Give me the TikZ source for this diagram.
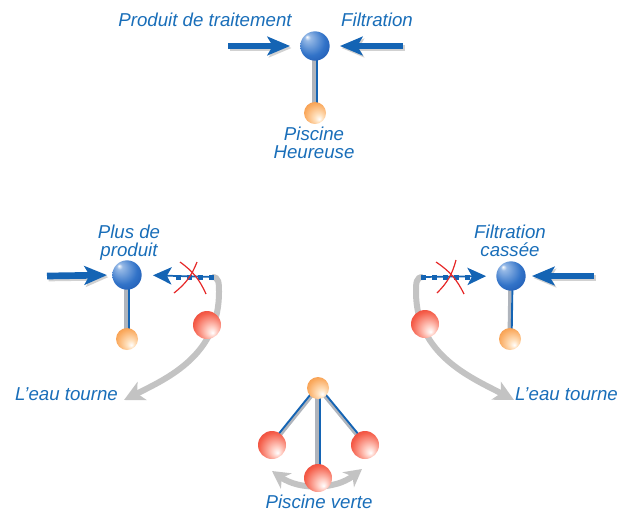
\documentclass[tikz,border=0pt]{standalone}
\usepackage{fontspec}
\setmainfont{Liberation Sans}
\usetikzlibrary{arrows.meta,calc}
\definecolor{txtblue}{RGB}{25,110,185}
\definecolor{arrblue}{RGB}{20,100,180}
\definecolor{stemgray}{RGB}{175,180,188}
\definecolor{curvegray}{RGB}{195,195,195}
\definecolor{xred}{RGB}{230,40,40}
\definecolor{blA}{RGB}{150,185,230}
\definecolor{blB}{RGB}{50,115,200}
\definecolor{blC}{RGB}{20,75,165}
\definecolor{orA}{RGB}{255,225,190}
\definecolor{orB}{RGB}{250,170,95}
\definecolor{orC}{RGB}{238,130,45}
\definecolor{rdA}{RGB}{255,205,195}
\definecolor{rdB}{RGB}{245,95,75}
\definecolor{rdC}{RGB}{220,30,25}
\pgfdeclareradialshading{blueballsh}{\pgfpoint{-14bp}{16bp}}{color(0bp)=(white); color(5bp)=(blA); color(24bp)=(blB); color(44bp)=(blC); color(50bp)=(blC)}
\pgfdeclareradialshading{orangeballsh}{\pgfpoint{10bp}{-14bp}}{color(0bp)=(white); color(9bp)=(orA); color(28bp)=(orB); color(46bp)=(orC); color(50bp)=(orC)}
\pgfdeclareradialshading{redballsh}{\pgfpoint{10bp}{-14bp}}{color(0bp)=(white); color(9bp)=(rdA); color(28bp)=(rdB); color(46bp)=(rdC); color(50bp)=(rdC)}
\begin{document}
\begin{tikzpicture}[x=0.75pt,y=-0.75pt,
  bball/.style={circle, inner sep=0pt, minimum size=22pt, shading=blueballsh},
  oball/.style={circle, inner sep=0pt, minimum size=16.5pt, shading=orangeballsh},
  rball/.style={circle, inner sep=0pt, minimum size=21pt, shading=redballsh},
  lbl/.style={text=txtblue, font=\fontsize{14}{13}\selectfont\itshape, align=center, inner sep=0pt},
  bigarrow/.style={draw=arrblue, line width=5pt, -{Stealth[length=17pt,width=14pt,inset=4pt]}},
  shadowarrow/.style={draw=black!18, line width=5pt, -{Stealth[length=17pt,width=14pt,inset=4pt]}, transform canvas={shift={(1.5,2)}}},
  grayarrow/.style={draw=curvegray, line width=4.5pt, -{Stealth[length=15pt,width=15pt,inset=4pt]}},
  grayboth/.style={draw=curvegray, line width=4.5pt, {Stealth[length=13pt,width=14pt,inset=4pt]}-{Stealth[length=13pt,width=14pt,inset=4pt]}},
  stemg/.style={draw=stemgray, line width=2.6pt},
  stemb/.style={draw=arrblue, line width=1.4pt},
  dotline/.style={draw=arrblue, line width=1.3pt, -{Stealth[length=14pt,width=13pt,inset=3.5pt]}},
  dotsq/.style={draw=arrblue, line width=3.75pt, dash pattern=on 3.75pt off 4.5pt},
  xstroke/.style={draw=xred, line width=0.9pt}
]
\useasboundingbox (0,0) rectangle (634,512);

% ---------- coordinates ----------
\coordinate (t1) at (228,46);
\coordinate (t2) at (403,46);
\coordinate (t3) at (47,276);
\coordinate (d2s) at (213.5,277);
\coordinate (d2e) at (174,277);
\coordinate (t4) at (594,276);
\coordinate (d3s) at (421,277);
\coordinate (d3e) at (470,277);
\coordinate (gl0) at (212,277);
\coordinate (gl1) at (124,400);
\coordinate (gr0) at (423,277);
\coordinate (gr1) at (514,400);
\coordinate (ba) at (272,471);
\coordinate (bb) at (362,469);

% ---------- ball positions ----------
\coordinate (b1p) at (315,46);
\coordinate (o1p) at (315,113);
\coordinate (b2p) at (127,275);
\coordinate (o2p) at (127,339);
\coordinate (b3p) at (511,276);
\coordinate (o3p) at (510,339);
\coordinate (o4p) at (318,388);
\coordinate (r4ap) at (272,445);
\coordinate (r4bp) at (318,478);
\coordinate (r4cp) at (365,445);

% ---------- stems ----------
\draw[stemg] ($(b1p)+(-0.8,0)$) -- ($(o1p)+(-0.8,0)$);
\draw[stemb] ($(b1p)+(1.6,0)$) -- ($(o1p)+(1.6,0)$);
\draw[stemg] ($(b2p)+(-0.8,0)$) -- ($(o2p)+(-0.8,0)$);
\draw[stemb] ($(b2p)+(1.6,0)$) -- ($(o2p)+(1.6,0)$);
\draw[stemg] ($(b3p)+(-0.8,0)$) -- ($(o3p)+(-0.8,0)$);
\draw[stemb] ($(b3p)+(1.6,0)$) -- ($(o3p)+(1.6,0)$);
\draw[stemg] (o4p) -- (r4ap);
\draw[stemb] ($(o4p)+(-1.4,-1.1)$) -- ($(r4ap)+(-1.4,-1.1)$);
\draw[stemg] (o4p) -- (r4cp);
\draw[stemb] ($(o4p)+(1.4,-1.1)$) -- ($(r4cp)+(1.4,-1.1)$);
\draw[stemg] ($(o4p)+(-0.8,0)$) -- ($(r4bp)+(-0.8,0)$);
\draw[stemb] ($(o4p)+(1.6,0)$) -- ($(r4bp)+(1.6,0)$);

% ---------- gray curved arrows ----------
\draw[grayarrow] (gl0) .. controls (219,277) and (219,283) .. (219,292)
   .. controls (219,355) and (168,378) .. (gl1);
\draw[grayarrow] (gr0) .. controls (416,277) and (416,283) .. (416,292)
   .. controls (416,355) and (472,378) .. (gr1);
\draw[grayboth] (ba) .. controls (299,490) and (335,490) .. (bb);

% ---------- balls ----------
\node[bball] (b1) at (b1p) {};
\node[oball] (o1) at (o1p) {};
\node[bball] (b2) at (b2p) {};
\node[oball] (o2) at (o2p) {};
\node[rball] (r2) at (207,325) {};
\node[bball] (b3) at (b3p) {};
\node[oball] (o3) at (o3p) {};
\node[rball] (r3) at (425,324) {};
\node[oball] (o4) at (o4p) {};
\node[rball] (r4a) at (r4ap) {};
\node[rball] (r4b) at (r4bp) {};
\node[rball] (r4c) at (r4cp) {};

% ---------- blue arrows ----------
\draw[shadowarrow, shorten >=7.5pt] (t1) -- (b1.west);
\draw[bigarrow, shorten >=7.5pt] (t1) -- (b1.west);
\draw[shadowarrow, shorten >=7.5pt] (t2) -- (b1.east);
\draw[bigarrow, shorten >=7.5pt] (t2) -- (b1.east);
\draw[shadowarrow, shorten >=3.75pt] (t3) -- (b2.west);
\draw[bigarrow, shorten >=3.75pt] (t3) -- (b2.west);
\draw[shadowarrow, shorten >=4.5pt] (t4) -- (b3.east);
\draw[bigarrow, shorten >=4.5pt] (t4) -- (b3.east);

% ---------- dotted arrows ----------
\draw[dotline, shorten >=8.25pt] (d2s) -- (b2.east);
\draw[dotsq] (d2s) -- (d2e);
\draw[dotline, shorten >=7.5pt] (d3s) -- (b3.west);
\draw[dotsq] (d3s) -- (d3e);

% ---------- red crosses ----------
\draw[xstroke] (180,262) to[bend left=15] (206,294);
\draw[xstroke] (197,262) to[bend left=15] (174,293);
\draw[xstroke] (436,262) to[bend left=15] (464,294);
\draw[xstroke] (456,260) to[bend left=15] (437,293);

% ---------- labels ----------
\node[lbl, anchor=north] (lprod) at (205,13) {Produit de traitement};
\node[lbl, anchor=north] (lfilt) at (377,13) {Filtration};
\node[lbl, anchor=north] (lheur) at (314,127) {Piscine\\Heureuse};
\node[lbl, anchor=north] (lplus) at (129,225) {Plus de\\produit};
\node[lbl, anchor=north] (lcass) at (510,225) {Filtration\\cassée};
\node[lbl, anchor=base] (leau1) at (66.5,400) {L'eau tourne};
\node[lbl, anchor=base] (leau2) at (566.5,400) {L'eau tourne};
\node[lbl, anchor=base] (lvert) at (319,508) {Piscine verte};
\end{tikzpicture}
\end{document}
